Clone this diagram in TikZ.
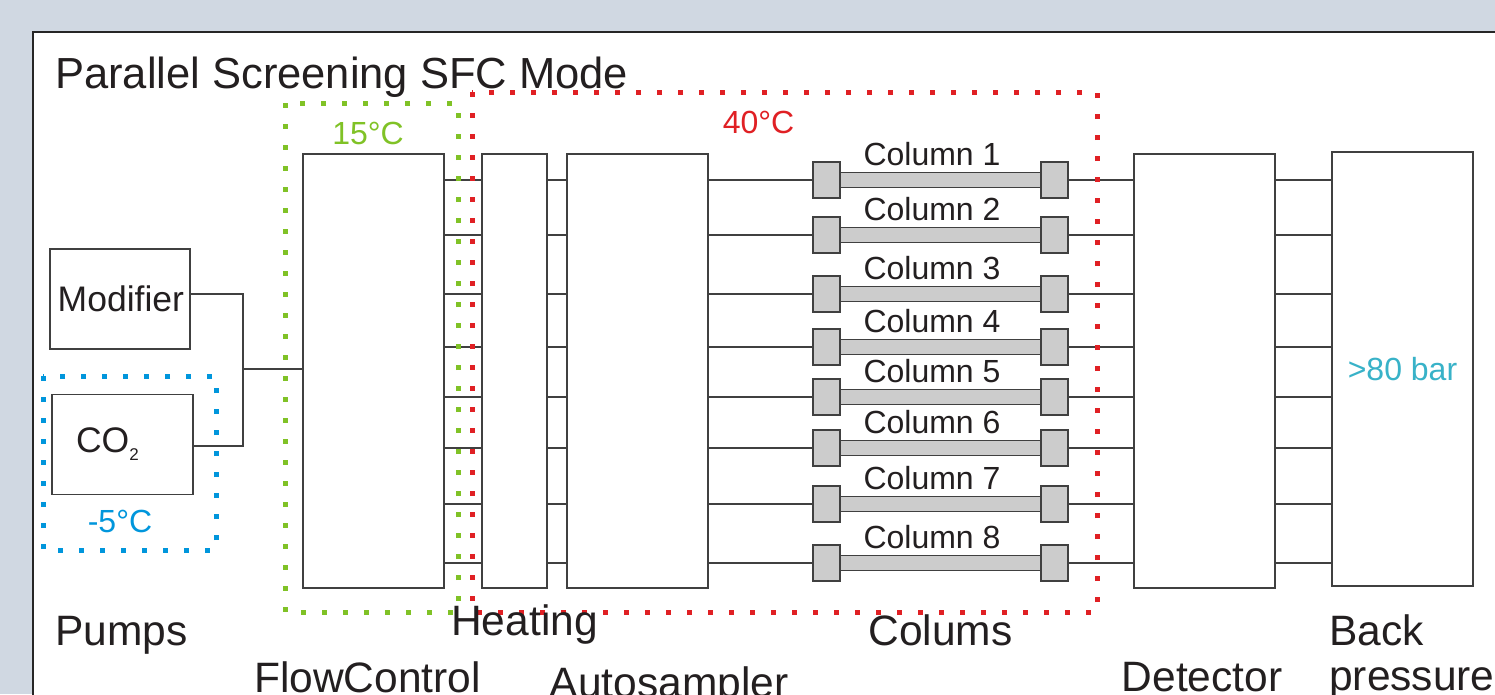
\documentclass[tikz,border=0pt]{standalone}
\usepackage{fontspec}
\setmainfont{Liberation Sans}
\usepackage{xcolor}
\usepackage{tikz}
\usetikzlibrary{positioning,calc}
\definecolor{bggray}{RGB}{208,216,226}
\definecolor{linegray}{RGB}{64,64,64}
\definecolor{colgray}{RGB}{204,204,204}
\definecolor{tgreen}{RGB}{128,194,38}
\definecolor{tred}{RGB}{224,32,36}
\definecolor{tblue}{RGB}{0,150,220}
\definecolor{tteal}{RGB}{56,178,200}
\definecolor{txtblack}{RGB}{35,31,32}

\begin{document}
\begin{tikzpicture}[
  x=1pt, y=-1pt,
  text=txtblack,
  base/.style   = {draw=linegray, line width=1.4pt, fill=white, inner sep=0pt, outer sep=0pt},
  unitnd/.style = {base, minimum width=141pt, minimum height=434pt},
  pumpnd/.style = {base, minimum width=141pt, minimum height=100pt,
                   font=\fontsize{35.5}{40}\selectfont},
  capnd/.style  = {base, fill=colgray, minimum width=27pt, minimum height=36pt},
  tubend/.style = {base, fill=colgray, minimum width=201pt, minimum height=15pt},
  pipe/.style   = {draw=linegray, line width=1.2pt},
  zone/.style   = {line width=5pt, dash pattern=on 5pt off 16pt},
  biglbl/.style = {font=\fontsize{42.5}{45}\selectfont, inner sep=0pt, anchor=base},
  smlbl/.style  = {font=\fontsize{32}{36}\selectfont, inner sep=0pt, anchor=base}
]
\useasboundingbox (0,0) rectangle (1495,694);
\fill[bggray] (0,0) rectangle (1495,694);
\draw[draw=black!85, line width=1.3pt, fill=white] (33,32) rectangle (1530,730);

\node[pumpnd, minimum width=140pt, text width=128pt, align=right] (modifier) at (120,299) {Modifier};
\node[pumpnd, text width=93pt, align=left] (co2) at (122.5,444.5)
  {CO\raisebox{-8pt}{\fontsize{17}{17}\selectfont 2}};
\node[unitnd] (flow) at (373.5,371) {};
\node[unitnd, minimum width=65pt] (heat) at (514.5,371) {};
\node[unitnd] (auto) at (637.5,371) {};
\node[unitnd] (det) at (1204.5,371) {};
\node[unitnd, text=tteal, font=\fontsize{32}{36}\selectfont] (back) at (1402.5,369) {>80 bar};

\coordinate (mix) at (243,369);
\draw[pipe] (modifier.east |- 0,294) -| (mix);
\draw[pipe] (co2.east |- 0,446) -| (mix);
\draw[pipe] (mix) -- (flow.west |- mix);

\foreach \y [count=\i] in {180,235,294,347,397,448,504,563}{
  \node[tubend] (col\i) at (940.5,\y) {};
  \node[capnd] (cl\i) at (826.5,\y) {};
  \node[capnd] (cr\i) at (1054.5,\y) {};
  \node[smlbl] (lbl\i) at (932,\y-14.5) {Column \i};
  \draw[pipe] (flow.east |- 0,\y) -- (heat.west |- 0,\y);
  \draw[pipe] (heat.east |- 0,\y) -- (auto.west |- 0,\y);
  \draw[pipe] (auto.east |- 0,\y) -- (cl\i.west);
  \draw[pipe] (cr\i.east) -- (det.west |- 0,\y);
  \draw[pipe] (det.east |- 0,\y) -- (back.west |- 0,\y);
}

\draw[zone, tblue] (43,376) rectangle (216,550);
\draw[zone, tgreen] (285,103) rectangle (458,612);
\draw[zone, tred] (472,92) rectangle (1097,612);

\node[smlbl, text=tblue] (cold) at (120,532) {-5°C};
\node[smlbl, text=tgreen] (cool) at (368,144) {15°C};
\node[smlbl, text=tred] (warm) at (758.5,133) {40°C};

\node[biglbl, anchor=base west, font=\fontsize{43.5}{48}\selectfont] (title) at (55,88)
  {Parallel Screening SFC Mode};
\node[biglbl] (pumps) at (121.5,645) {Pumps};
\node[biglbl] (flowlbl) at (367.5,692) {FlowControl};
\node[biglbl] (heatlbl) at (524.5,635) {Heating};
\node[biglbl] (autolbl) at (669,697) {Autosampler};
\node[biglbl] (collbl) at (940.5,645) {Colums};
\node[biglbl] (detlbl) at (1202,691) {Detector};
\node[biglbl, anchor=north west, align=left] (backlbl) at (1329,614) {Back\\pressure};
\end{tikzpicture}
\end{document}
